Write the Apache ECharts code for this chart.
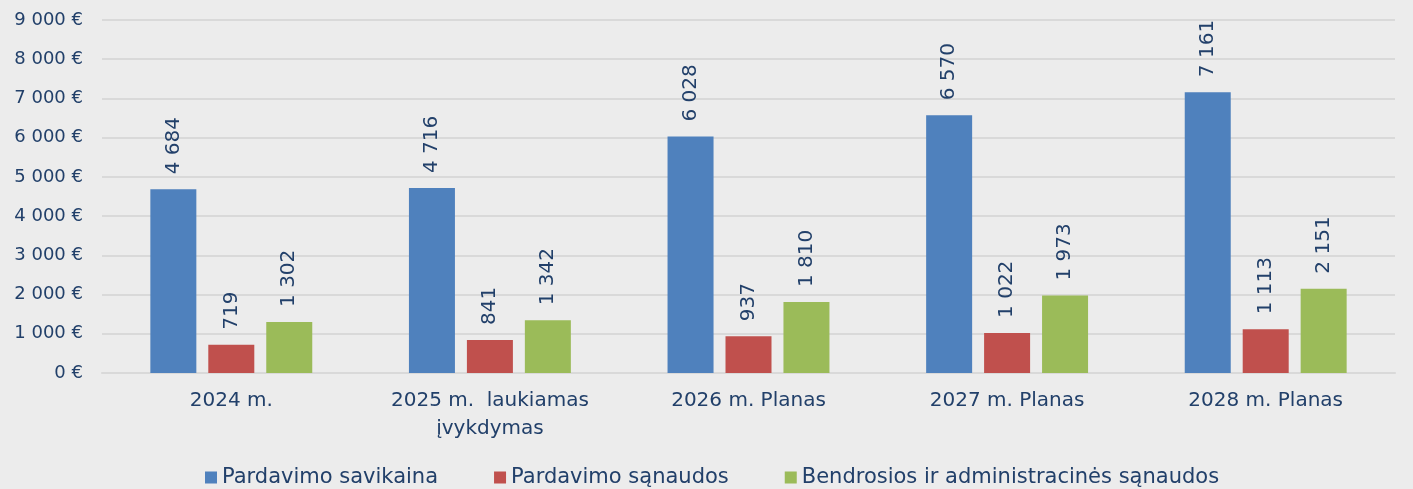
<!DOCTYPE html>
<html>
<head>
<meta charset="utf-8">
<script src="https://cdn.jsdelivr.net/npm/echarts@6/dist/echarts.min.js"></script>
<style>
html,body{margin:0;padding:0;background:#ececec;}
#c{width:1413px;height:489px;}
</style>
</head>
<body>
<div id="c"></div>
<script>
const categories = ['2024 m.', '2025 m.  laukiamas\nįvykdymas', '2026 m. Planas', '2027 m. Planas', '2028 m. Planas'];
const seriesNames = ['Pardavimo savikaina', 'Pardavimo sąnaudos', 'Bendrosios ir administracinės sąnaudos'];
const savikaina = [4684, 4716, 6028, 6570, 7161];
const pardSanaudos = [719, 841, 937, 1022, 1113];
const bendrosios = [1302, 1342, 1810, 1973, 2151];
const colors = ['#4f81bd', '#c0504d', '#9bbb59'];

const txt = '#22406a';
const font = 'DejaVu Sans';
function fmt(v){ v = Math.round(v); const s = String(v); return s.length > 3 ? s.slice(0, s.length-3) + ' ' + s.slice(-3) : s; }

const chart = echarts.init(document.getElementById('c'));
const mk = (name, data, color) => ({
  name, type: 'bar', data,
  barWidth: 46, barGap: '26%',
  itemStyle: { color },
  label: { show: true, position: 'top', rotate: 90, align: 'left', verticalAlign: 'middle', distance: 15,
    color: txt, fontFamily: font, fontSize: 20, formatter: p => fmt(p.value) }
});
chart.setOption({
  backgroundColor: '#ececec',
  animation: false,
  grid: { left: 102, right: 18, top: 20, bottom: 116, containLabel: false },
  legend: {
    top: 467, left: 205, padding: 0, itemWidth: 12, itemHeight: 12, itemGap: 56, icon: 'rect',
    textStyle: { color: txt, fontFamily: font, fontSize: 21 },
    data: seriesNames
  },
  xAxis: {
    type: 'category', data: categories,
    axisLine: { lineStyle: { color: '#d9d9d9', width: 2 } },
    axisTick: { show: false },
    axisLabel: { color: txt, fontFamily: font, fontSize: 20, margin: 14, lineHeight: 28 }
  },
  yAxis: {
    type: 'value', min: 0, max: 9000, interval: 1000,
    axisLine: { show: false }, axisTick: { show: false },
    splitLine: { lineStyle: { color: '#d9d9d9', width: 2 } },
    axisLabel: { color: txt, fontFamily: font, fontSize: 18, margin: 19, formatter: v => fmt(v) + ' €' }
  },
  series: [
    mk(seriesNames[0], savikaina, colors[0]),
    mk(seriesNames[1], pardSanaudos, colors[1]),
    mk(seriesNames[2], bendrosios, colors[2])
  ]
});
</script>
</body>
</html>
